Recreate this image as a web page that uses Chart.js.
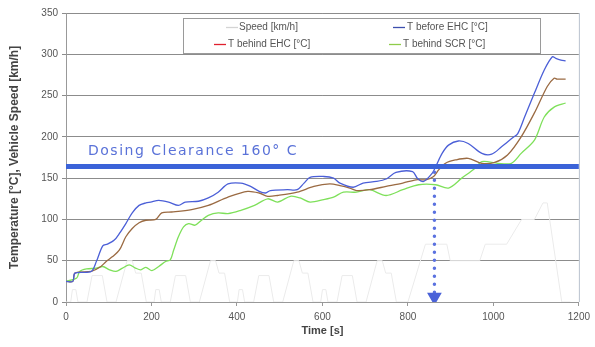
<!DOCTYPE html>
<html>
<head>
<meta charset="utf-8">
<script src="https://cdn.jsdelivr.net/npm/chart.js@4.4.1/dist/chart.umd.min.js"></script>
<style>
  html, body { margin: 0; padding: 0; background: #fff; }
  canvas { display: block; }
</style>
</head>
<body>
<canvas id="canvas" width="595" height="347"></canvas>
<script>
// vehicle speed [km/h] over time [s]
var speedTime = [0, 11, 15, 23, 28, 49, 61, 85, 96, 117, 143, 155, 163, 176, 188,
    206, 210, 218, 223, 244, 256, 280, 291, 312, 338, 350, 358, 371, 383,
    401, 405, 413, 418, 439, 451, 475, 486, 507, 533, 545, 553, 566, 578,
    596, 600, 608, 613, 634, 646, 670, 681, 702, 728, 740, 748, 761, 773,
    800, 841, 891, 899, 968, 981, 1031, 1066, 1096, 1116, 1126, 1160, 1180];
var speedValues = [0, 0, 15, 15, 0, 0, 32, 32, 0, 0, 50, 50, 35, 35, 0,
    0, 15, 15, 0, 0, 32, 32, 0, 0, 50, 50, 35, 35, 0,
    0, 15, 15, 0, 0, 32, 32, 0, 0, 50, 50, 35, 35, 0,
    0, 15, 15, 0, 0, 32, 32, 0, 0, 50, 50, 35, 35, 0,
    0, 70, 70, 50, 50, 70, 70, 100, 100, 120, 120, 0, 0];

// T before EHC [°C]
var beforeEhcTime = [0, 16, 21, 59, 71, 86, 97, 113, 125, 140, 155, 171, 187, 198, 217,
    240, 263, 279, 310, 333, 356, 379, 409, 432, 452, 467, 478, 518, 541, 557,
    571, 603, 626, 641, 672, 695, 726, 749, 772, 811, 822, 837, 857, 865, 880,
    895, 918, 941, 973, 996, 1019, 1045, 1057, 1073, 1096, 1119, 1138, 1146, 1158, 1169];
var beforeEhcValues = [25, 25, 35, 37, 49, 68, 70, 75, 83, 95, 108, 117, 120, 121, 123,
    121, 117, 121, 122, 126, 133, 143, 144, 140, 134, 132, 135, 136, 136, 144,
    151, 152, 150, 144, 139, 144, 146, 149, 157, 158, 150, 146, 156, 164, 180,
    190, 195, 192, 180, 179, 188, 199, 204, 224, 253, 281, 297, 295, 293, 292];

// T behind EHC [°C]
var behindEhcTime = [0, 16, 21, 59, 79, 94, 109, 125, 140, 155, 171, 187, 210, 224, 247,
    294, 333, 379, 425, 452, 472, 495, 541, 580, 617, 641, 664, 680, 710, 749,
    788, 819, 842, 860, 872, 888, 911, 941, 973, 1003, 1033, 1065, 1096, 1126, 1142,
    1149, 1169];
var behindEhcValues = [25, 25, 35, 37, 42, 49, 55, 63, 79, 89, 96, 99, 100, 108, 109,
    112, 117, 127, 134, 132, 128, 129, 133, 140, 143, 141, 138, 135, 136, 140,
    144, 148, 148, 152, 160, 168, 172, 174, 168, 169, 178, 200, 229, 261, 271,
    270, 270];

// T behind SCR [°C]
var behindScrTime = [0, 25, 32, 48, 71, 86, 102, 117, 132, 148, 163, 175, 187, 201, 217,
    233, 244, 252, 263, 275, 287, 302, 317, 333, 356, 379, 409, 441, 472, 495,
    525, 548, 571, 603, 626, 649, 680, 710, 749, 788, 825, 865, 895, 926, 957,
    973, 1010, 1042, 1065, 1096, 1119, 1142, 1169];
var behindScrValues = [25, 29, 37, 40, 41, 43, 39, 37, 41, 45, 41, 39, 42, 38, 43,
    49, 51, 63, 79, 91, 95, 93, 99, 105, 108, 107, 111, 117, 125, 121,
    128, 126, 121, 124, 127, 133, 133, 136, 129, 136, 142, 142, 138, 150, 162,
    170, 168, 168, 180, 196, 224, 236, 241];

// dosing clearance band and the time it is reached
var dosingTime = [0, 1200];
var dosingValues = [164, 164];
var arrowTime = [862, 862];
var arrowValues = [157, 6];

var xTicks = [0, 200, 400, 600, 800, 1000, 1200];
var yTicks = [0, 50, 100, 150, 200, 250, 300, 350];

function pts(xs, ys) {
    return xs.map(function (x, i) { return { x: x, y: ys[i] }; });
}

var legendItems = [
    { text: 'Speed [km/h]', color: '#d4d4d4', lx: 226, tx: 239, row: 0 },
    { text: 'T before EHC [\u00B0C]', color: '#3d4fae', lx: 393, tx: 407, row: 0 },
    { text: 'T behind EHC [\u00B0C]', color: '#e0202e', lx: 214, tx: 228, row: 1 },
    { text: 'T behind SCR [\u00B0C]', color: '#8fcc4a', lx: 389, tx: 403, row: 1 }
];

var extras = {
    id: 'extras',
    afterDraw: function (chart) {
        var ctx = chart.ctx;
        var area = chart.chartArea;
        var y = chart.scales.y;
        ctx.save();
        // right frame line
        ctx.strokeStyle = '#b9c2cf';
        ctx.lineWidth = 1;
        ctx.beginPath();
        ctx.moveTo(area.right + 0.5, area.top);
        ctx.lineTo(area.right + 0.5, area.bottom);
        ctx.stroke();

        // dosing clearance label
        ctx.fillStyle = '#5a72d8';
        ctx.font = '14px "DejaVu Sans"';
        ctx.letterSpacing = '1.5px';
        ctx.textBaseline = 'middle';
        ctx.textAlign = 'left';
        ctx.fillText('Dosing Clearance 160\u00B0 C', area.left + 22, y.getPixelForValue(182));
        ctx.letterSpacing = '0px';

        // legend box
        var bx = 183, by = 18, bw = 357, bh = 35;
        ctx.fillStyle = '#fff';
        ctx.fillRect(bx, by, bw, bh);
        ctx.strokeStyle = '#9a9a9a';
        ctx.strokeRect(bx + 0.5, by + 0.5, bw, bh);
        ctx.font = '10px "Liberation Sans"';
        legendItems.forEach(function (it) {
            var ly = it.row === 0 ? 27.5 : 44.5;
            ctx.strokeStyle = it.color;
            ctx.lineWidth = 1.3;
            ctx.beginPath();
            ctx.moveTo(it.lx, ly);
            ctx.lineTo(it.lx + 12, ly);
            ctx.stroke();
            ctx.fillStyle = '#555';
            ctx.fillText(it.text, it.tx, ly);
        });
        ctx.restore();
    }
};

window.onload = function () {
    var ctx = document.getElementById('canvas').getContext('2d');
    window.myChart = new Chart(ctx, {
        type: 'line',
        data: {
            datasets: [{
                label: 'Dosing Clearance',
                data: pts(dosingTime, dosingValues),
                borderColor: '#3b63d8',
                borderWidth: 5,
                pointRadius: 0
            }, {
                label: 'arrow',
                data: pts(arrowTime, arrowValues),
                borderColor: '#5b72e0',
                borderWidth: 3.5,
                borderDash: [0, 8],
                borderCapStyle: 'round',
                pointStyle: 'triangle',
                pointRadius: [0, 5],
                pointRotation: 180,
                pointBackgroundColor: '#4a62d8',
                pointBorderColor: '#4a62d8'
            }, {
                label: 'T before EHC [\u00B0C]',
                data: pts(beforeEhcTime, beforeEhcValues),
                borderColor: '#4b5fd7',
                borderWidth: 1.3,
                pointRadius: 0,
                tension: 0.3
            }, {
                label: 'T behind EHC [\u00B0C]',
                data: pts(behindEhcTime, behindEhcValues),
                borderColor: '#9a6a42',
                borderWidth: 1.3,
                pointRadius: 0,
                tension: 0.3
            }, {
                label: 'T behind SCR [\u00B0C]',
                data: pts(behindScrTime, behindScrValues),
                borderColor: '#7ee05a',
                borderWidth: 1.3,
                pointRadius: 0,
                tension: 0.3
            }, {
                label: 'Speed [km/h]',
                data: pts(speedTime, speedValues),
                borderColor: '#ebebeb',
                borderWidth: 1,
                pointRadius: 0
            }]
        },
        options: {
            responsive: false,
            animation: false,
            devicePixelRatio: 1,
            layout: { padding: { top: 13, right: 10, left: 0, bottom: 0 } },
            plugins: {
                legend: { display: false },
                tooltip: { enabled: false }
            },
            scales: {
                x: {
                    type: 'linear',
                    min: 0,
                    max: 1200,
                    afterBuildTicks: function (axis) {
                        axis.ticks = xTicks.map(function (v) { return { value: v }; });
                    },
                    afterFit: function (scale) { scale.height = 45; },
                    grid: { drawOnChartArea: false, color: '#999', tickLength: 4 },
                    border: { color: '#999' },
                    ticks: {
                        color: '#555', padding: 5, maxRotation: 0,
                        font: { family: 'Liberation Sans', size: 10 },
                        callback: function (v) { return String(v); }
                    },
                    title: {
                        display: true, text: 'Time [s]', color: '#444',
                        font: { family: 'Liberation Sans', size: 11, weight: 'bold' },
                        padding: { top: 0, bottom: 9 }
                    }
                },
                y: {
                    min: 0,
                    max: 350,
                    afterBuildTicks: function (axis) {
                        axis.ticks = yTicks.map(function (v) { return { value: v }; });
                    },
                    afterFit: function (scale) { scale.width = 66; },
                    grid: { color: '#8c8c8c', tickLength: 4 },
                    border: { color: '#999' },
                    ticks: {
                        color: '#555', padding: 4,
                        font: { family: 'Liberation Sans', size: 10 }
                    },
                    title: {
                        display: true, text: 'Temperature [\u00B0C], Vehicle Speed [km/h]', color: '#444',
                        font: { family: 'Liberation Sans', size: 12, weight: 'bold' },
                        padding: { top: 7, bottom: 0 }
                    }
                }
            }
        },
        plugins: [extras]
    });
};
</script>
</body>
</html>
